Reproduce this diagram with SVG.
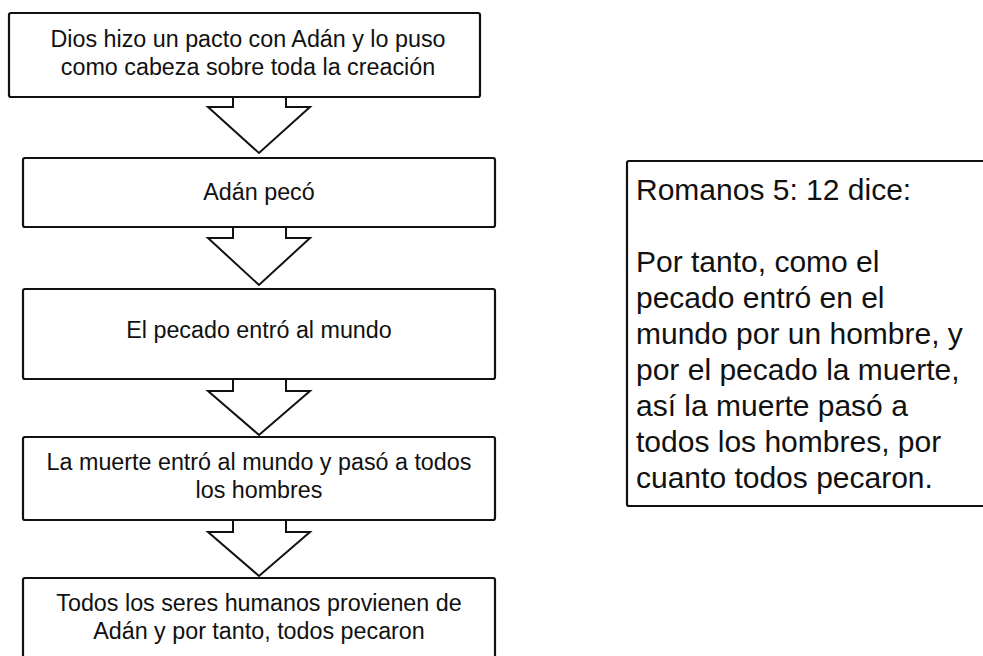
<svg xmlns="http://www.w3.org/2000/svg" width="983" height="656" viewBox="0 0 983 656">
<style>
.box{fill:#fff;stroke:#111;stroke-width:2.2}
.arr{fill:#fff;stroke:#111;stroke-width:2;stroke-linejoin:miter}
.t{font-family:"Liberation Sans",Arial,sans-serif;font-size:23.3px;fill:#111;text-anchor:middle}
.q{font-family:"Liberation Sans",Arial,sans-serif;font-size:30px;fill:#111}
</style>
<rect width="983" height="656" fill="#fff"/>
<g id="connectors">
<polygon class="arr" points="233,97 233,107 208,107 259,153 310,107 286,107 286,97"/>
<polygon class="arr" points="233,227 233,238 208,238 259,285 310,238 286,238 286,227"/>
<polygon class="arr" points="233,379 233,391 208,391 259,435 310,391 286,391 286,379"/>
<polygon class="arr" points="233,520 233,532 208,532 259,576 310,532 286,532 286,520"/>
</g>
<g id="n1">
<rect class="box" x="9" y="13" width="471" height="84" rx="2"/>
<text class="t" x="248" y="47">Dios hizo un pacto con Adán y lo puso</text>
<text class="t" x="248" y="75">como cabeza sobre toda la creación</text>
</g>
<g id="n2">
<rect class="box" x="23" y="158" width="472" height="69" rx="2"/>
<text class="t" x="259" y="200">Adán pecó</text>
</g>
<g id="n3">
<rect class="box" x="23" y="289" width="472" height="90" rx="2"/>
<text class="t" x="259" y="338">El pecado entró al mundo</text>
</g>
<g id="n4">
<rect class="box" x="23" y="437" width="472" height="83" rx="2"/>
<text class="t" x="259" y="470">La muerte entró al mundo y pasó a todos</text>
<text class="t" x="259" y="498">los hombres</text>
</g>
<g id="n5">
<rect class="box" x="23" y="578" width="472" height="90" rx="2"/>
<text class="t" x="259" y="611">Todos los seres humanos provienen de</text>
<text class="t" x="259" y="639">Adán y por tanto, todos pecaron</text>
</g>
<g id="quote">
<rect class="box" x="627" y="161" width="370" height="345" rx="2"/>
<text class="q" x="636" y="200">Romanos 5: 12 dice:</text>
<text class="q" x="636" y="272">Por tanto, como el</text>
<text class="q" x="636" y="308">pecado entró en el</text>
<text class="q" x="636" y="344">mundo por un hombre, y</text>
<text class="q" x="636" y="380">por el pecado la muerte,</text>
<text class="q" x="636" y="416">así la muerte pasó a</text>
<text class="q" x="636" y="452">todos los hombres, por</text>
<text class="q" x="636" y="488">cuanto todos pecaron.</text>
</g>
</svg>
